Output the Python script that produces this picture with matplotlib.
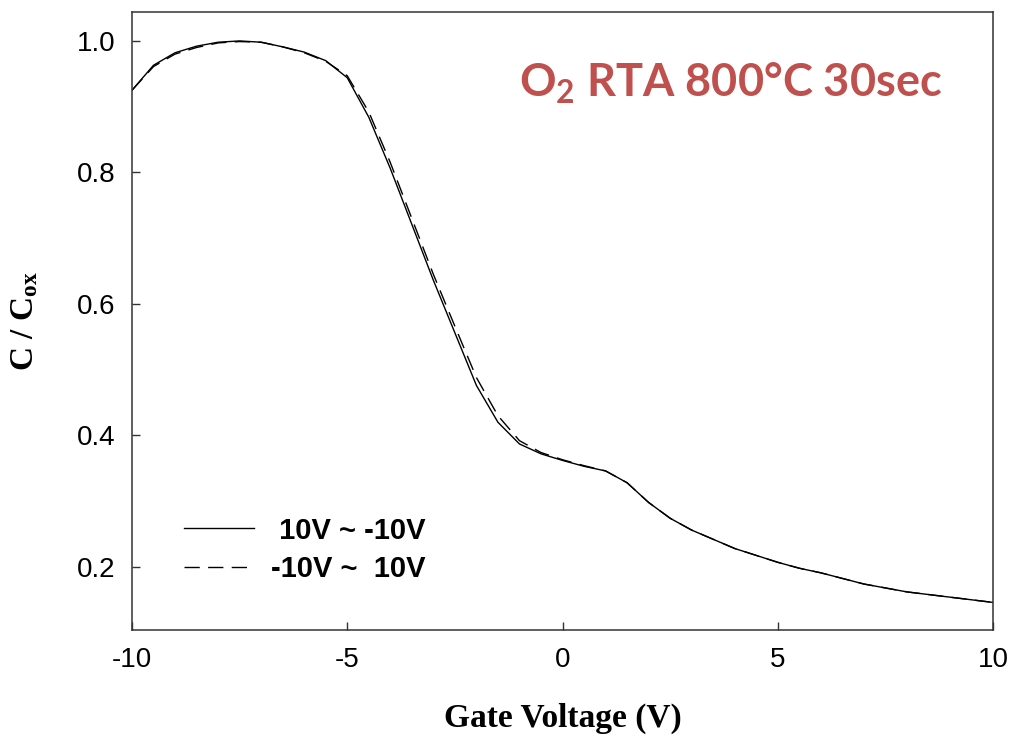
import matplotlib
matplotlib.use("Agg")
import matplotlib.pyplot as plt

# Gate voltage sweep points (V)
gate_v = [-10, -9.5, -9, -8.5, -8, -7.5, -7, -6.5, -6, -5.5, -5, -4.5, -4,
          -3.5, -3, -2.5, -2, -1.5, -1, -0.5, 0, 0.5, 1, 1.5, 2, 2.5, 3,
          3.5, 4, 5, 5.5, 6, 7, 8, 9, 10]

# Normalized capacitance, sweep 10V -> -10V
c_down = [0.925, 0.963, 0.982, 0.992, 0.998, 1.000, 0.998, 0.991, 0.983,
          0.970, 0.944, 0.884, 0.806, 0.721, 0.636, 0.556, 0.476, 0.420,
          0.387, 0.372, 0.362, 0.353, 0.346, 0.328, 0.298, 0.274, 0.256,
          0.242, 0.228, 0.207, 0.198, 0.191, 0.174, 0.162, 0.154, 0.146]

# Normalized capacitance, sweep -10V -> 10V
c_up = [0.925, 0.961, 0.980, 0.990, 0.997, 0.999, 0.998, 0.991, 0.982,
        0.969, 0.947, 0.892, 0.815, 0.730, 0.645, 0.566, 0.488, 0.430,
        0.392, 0.374, 0.363, 0.354, 0.346, 0.328, 0.298, 0.274, 0.256,
        0.242, 0.228, 0.207, 0.198, 0.191, 0.174, 0.162, 0.154, 0.146]

series_labels = [" 10V ~ -10V", "-10V ~  10V"]
x_ticks = [-10, -5, 0, 5, 10]
y_ticks = [0.2, 0.4, 0.6, 0.8, 1.0]

plt.rcParams["mathtext.default"] = "regular"

fig = plt.figure(figsize=(10.13, 7.40), dpi=100)
ax = fig.add_axes([0.1303, 0.1486, 0.85, 0.8352])

ax.plot(gate_v, c_down, color="black", lw=1.0, label=series_labels[0])
ax.plot(gate_v, c_up, color="black", lw=1.0, dashes=(11, 6),
        label=series_labels[1])

ax.set_xlim(-10, 10)
ax.set_ylim(0.104, 1.044)
ax.set_xticks(x_ticks)
ax.set_xticklabels([f"{t:d}" for t in x_ticks])
ax.set_yticks(y_ticks)
ax.set_yticklabels([f"{t:.1f}" for t in y_ticks])

for side in ax.spines.values():
    side.set_color("#333333")
    side.set_linewidth(1.1)

ax.tick_params(direction="in", length=6, width=1.0, color="#333333",
               labelsize=20, labelcolor="black")
ax.tick_params(axis="x", pad=12)
ax.tick_params(axis="y", pad=12)
for lbl in ax.get_xticklabels() + ax.get_yticklabels():
    lbl.set_family("Liberation Sans")

ax.set_xlabel("Gate Voltage (V)", family="Liberation Serif",
              fontweight="bold", fontsize=24, labelpad=22)
ax.set_ylabel("C / C$_{ox}$", family="Liberation Serif",
              fontweight="bold", fontsize=24, labelpad=26)

leg = ax.legend(loc="lower left", bbox_to_anchor=(0.03, 0.034),
                frameon=False, handlelength=2.4, handletextpad=0.58,
                labelspacing=0.35,
                prop={"family": "Liberation Sans", "weight": "bold",
                      "size": 21})

ax.text(0.695, 0.885, "O$_2$ RTA 800°C 30sec", transform=ax.transAxes,
        ha="center", va="center", color="#C0504D", fontsize=32.5,
        family="Lato", fontweight="bold")

fig.savefig("out.png", dpi=100)
